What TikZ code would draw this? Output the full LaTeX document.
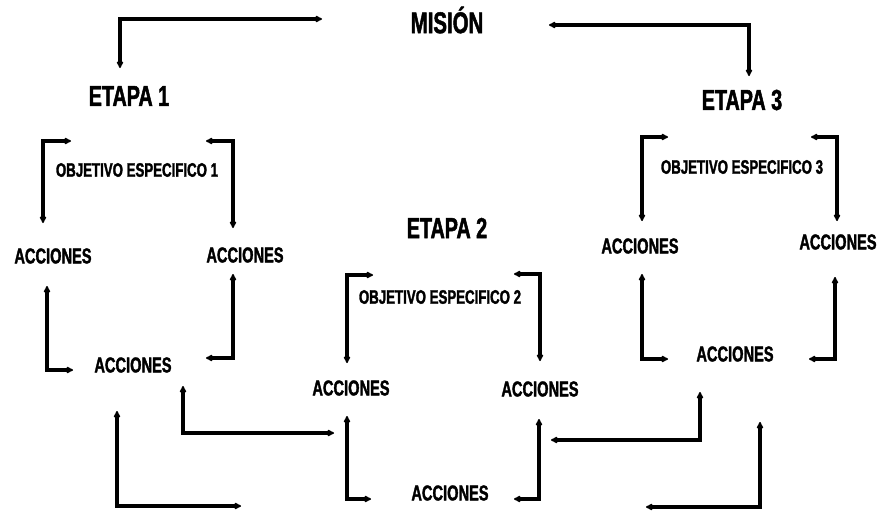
\documentclass[tikz,border=0pt]{standalone}
\usepackage{fontspec}
\setmainfont{Liberation Sans}[FakeStretch=0.68,BoldFeatures={FakeBold=1.6}]
\usetikzlibrary{arrows.meta}
\begin{document}
\begin{tikzpicture}[x=1pt,y=-1pt,
  link/.style={line width=3.4pt,{Latex[round,length=8pt,width=8pt]}-{Latex[round,length=8pt,width=8pt]}},
  lbl/.style={inner sep=0pt,font=\bfseries},
  big/.style={lbl,font=\bfseries\fontsize{30}{30}\selectfont},
  etapa/.style={lbl,font=\bfseries\fontsize{29}{29}\selectfont},
  obj/.style={lbl,font=\bfseries\fontsize{19.5}{19.5}\selectfont},
  acc/.style={lbl,font=\bfseries\fontsize{21.5}{21.5}\selectfont}]
\useasboundingbox[fill=white] (0,0) rectangle (877,520);
% texts
\node[big] (mision) at (447,20) {MISIÓN};
\node[etapa] (e1) at (129,96) {ETAPA 1};
\node[etapa] (e2) at (447,228) {ETAPA 2};
\node[etapa] (e3) at (742,100) {ETAPA 3};
\node[obj] (o1) at (137,170) {OBJETIVO ESPECIFICO 1};
\node[obj] (o2) at (440,297) {OBJETIVO ESPECIFICO 2};
\node[obj] (o3) at (742,167) {OBJETIVO ESPECIFICO 3};
\node[acc] (a1l) at (53,256) {ACCIONES};
\node[acc] (a1r) at (245,255) {ACCIONES};
\node[acc] (a1b) at (133,365) {ACCIONES};
\node[acc] (a2l) at (351,388) {ACCIONES};
\node[acc] (a2r) at (540,389) {ACCIONES};
\node[acc] (a2b) at (450,493) {ACCIONES};
\node[acc] (a3l) at (640,246) {ACCIONES};
\node[acc] (a3r) at (838,242) {ACCIONES};
\node[acc] (a3b) at (735,354) {ACCIONES};
% top
\draw[link] (120,68) |- (322,19);
\draw[link] (549,25) -| (749,76);
% etapa 1
\draw[link] (71,141) -| (43,223);
\draw[link] (206,141) -| (233,228);
\draw[link] (47,286) |- (73,370);
\draw[link] (233,274) |- (206,358);
% etapa 2
\draw[link] (373,275) -| (347,363);
\draw[link] (514,274) -| (540,361);
\draw[link] (183,386) |- (334,433);
\draw[link] (347,416) |- (371,499);
\draw[link] (514,499) -| (539,419);
% etapa 3
\draw[link] (668,137) -| (642,221);
\draw[link] (811,137) -| (837,221);
\draw[link] (642,274) |- (668,359);
\draw[link] (809,359) -| (835,277);
% links between
\draw[link] (551,440) -| (700,392);
\draw[link] (117,411) |- (241,506);
\draw[link] (646,507) -| (760,422);
\end{tikzpicture}
\end{document}
